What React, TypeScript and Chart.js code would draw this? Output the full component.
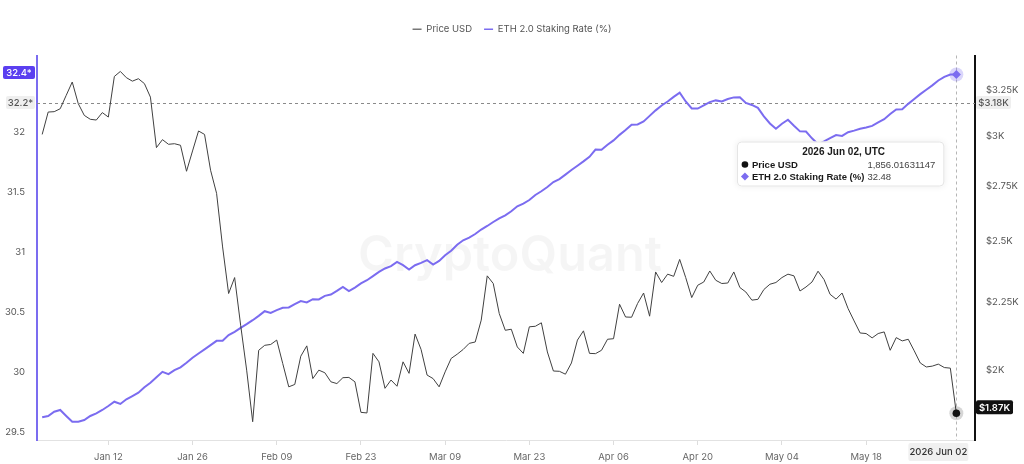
import React, { useEffect, useRef } from 'react';
import { Chart, registerables } from 'chart.js';

Chart.register(...registerables);

// Daily series, 2026 Jan 01 .. 2026 Jun 02
const priceUsd: number[] = [
  // Jan
  3009, 3128, 3130, 3146, 3220, 3295, 3174, 3110, 3089, 3085, 3125, 3101, 3327, 3356, 3320, 3300,
  3314, 3286, 3210, 2941, 2982, 2958, 2961, 2953, 2823, 2924, 3027, 3009, 2828, 2717, 2476,
  // Feb
  2284, 2348, 2162, 2000, 1829, 2070, 2088, 2091, 2107, 2023, 1943, 1951, 2049, 2086, 1971, 2000,
  1991, 1960, 1954, 1974, 1975, 1960, 1859, 1857, 2059, 2029, 1938, 1966,
  // Mar
  1945, 2029, 1989, 2129, 2073, 1983, 1971, 1943, 1994, 2041, 2056, 2073, 2095, 2100, 2181, 2355,
  2324, 2206, 2143, 2147, 2082, 2059, 2156, 2158, 2171, 2064, 1997, 1996, 1986, 2025, 2107,
  // Apr
  2141, 2059, 2058, 2070, 2110, 2112, 2242, 2193, 2192, 2245, 2286, 2196, 2371, 2328, 2362, 2353,
  2423, 2348, 2268, 2317, 2330, 2375, 2337, 2324, 2326, 2371, 2308, 2290, 2258, 2261,
  // May
  2300, 2321, 2328, 2348, 2362, 2355, 2294, 2310, 2330, 2374, 2340, 2281, 2262, 2286, 2225, 2178,
  2133, 2131, 2115, 2131, 2137, 2070, 2116, 2104, 2110, 2068, 2025, 2011, 2014, 2021, 2009,
  // Jun
  2007, 1856.01631147,
];

const stakingRate: number[] = [
  // Jan
  29.624, 29.635, 29.671, 29.685, 29.635, 29.587, 29.588, 29.601, 29.635, 29.657, 29.685, 29.718,
  29.754, 29.735, 29.774, 29.801, 29.829, 29.874, 29.912, 29.957, 30.003, 29.984, 30.017, 30.04,
  30.078, 30.12, 30.156, 30.19, 30.225, 30.261, 30.262,
  // Feb
  30.309, 30.336, 30.369, 30.4, 30.433, 30.469, 30.508, 30.494, 30.517, 30.536, 30.539, 30.567,
  30.592, 30.581, 30.608, 30.606, 30.636, 30.647, 30.677, 30.71, 30.675, 30.705, 30.739, 30.766,
  30.8, 30.835, 30.864, 30.883,
  // Mar
  30.918, 30.891, 30.855, 30.891, 30.91, 30.933, 30.897, 30.927, 30.974, 31.012, 31.062, 31.099,
  31.121, 31.151, 31.188, 31.218, 31.251, 31.282, 31.307, 31.34, 31.382, 31.404, 31.434, 31.476,
  31.507, 31.542, 31.584, 31.609, 31.646, 31.684, 31.72,
  // Apr
  31.756, 31.794, 31.854, 31.853, 31.894, 31.931, 31.977, 32.017, 32.062, 32.064, 32.089, 32.135,
  32.181, 32.222, 32.255, 32.293, 32.328, 32.255, 32.197, 32.196, 32.222, 32.25, 32.264, 32.255,
  32.276, 32.289, 32.291, 32.243, 32.226, 32.202,
  // May
  32.131, 32.072, 32.028, 32.07, 32.103, 32.053, 32.006, 32.005, 31.948, 31.898, 31.923, 31.95,
  31.975, 31.968, 31.999, 32.012, 32.028, 32.039, 32.052, 32.081, 32.107, 32.151, 32.189, 32.19,
  32.235, 32.276, 32.316, 32.353, 32.389, 32.43, 32.46,
  // Jun
  32.48, 32.48,
];

const seriesNames = ['Price USD', 'ETH 2.0 Staking Rate (%)'];
const xTickDays = [11, 25, 39, 53, 67, 81, 95, 109, 123, 137];
const xTickLabels = ['Jan 12', 'Jan 26', 'Feb 09', 'Feb 23', 'Mar 09', 'Mar 23', 'Apr 06', 'Apr 20', 'May 04', 'May 18'];
const rateTicks = [29.5, 30, 30.5, 31, 31.5, 32];
const priceTicks = [2000, 2250, 2500, 2750, 3000, 3250];

const hoverDateLabel = '2026 Jun 02';
const tooltipTitle = '2026 Jun 02, UTC';
const cursorPrice = 3180;
const cursorRateLabel = '32.2*';
const cursorPriceLabel = '$3.18K';
const lastRateLabel = '32.4*';
const lastPriceLabel = '$1.87K';
const watermarkText = 'CryptoQuant';

const PURPLE = '#7b6cf0';
const PRICE_COLOR = '#404040';
const FONT = 'Inter, "Noto Sans", sans-serif';
const TIP_FONT = '"Liberation Sans", Arial, sans-serif';

function roundRect(ctx: CanvasRenderingContext2D, x: number, y: number, w: number, h: number, r: number) {
  ctx.beginPath();
  ctx.moveTo(x + r, y);
  ctx.lineTo(x + w - r, y);
  ctx.quadraticCurveTo(x + w, y, x + w, y + r);
  ctx.lineTo(x + w, y + h - r);
  ctx.quadraticCurveTo(x + w, y + h, x + w - r, y + h);
  ctx.lineTo(x + r, y + h);
  ctx.quadraticCurveTo(x, y + h, x, y + h - r);
  ctx.lineTo(x, y + r);
  ctx.quadraticCurveTo(x, y, x + r, y);
  ctx.closePath();
}

function tagBox(
  ctx: CanvasRenderingContext2D,
  text: string,
  x: number,
  cy: number,
  w: number,
  h: number,
  bg: string,
  fg: string,
  weight = '500'
) {
  ctx.save();
  ctx.fillStyle = bg;
  roundRect(ctx, x, cy - h / 2, w, h, 2);
  ctx.fill();
  ctx.fillStyle = fg;
  ctx.font = `${weight} 9.5px ${FONT}`;
  ctx.textAlign = 'center';
  ctx.textBaseline = 'middle';
  ctx.fillText(text, x + w / 2, cy + 0.5);
  ctx.restore();
}

const legendSpacer = {
  id: 'legendSpacer',
  afterInit(chart: any) {
    const legend = chart.legend;
    if (!legend) return;
    const origFit = legend.fit;
    legend.fit = function () {
      origFit.call(this);
      this.height += 11.5;
    };
  },
};

const overlayPlugin = {
  id: 'overlay',
  beforeDatasetsDraw(chart: any) {
    const { ctx, chartArea } = chart;
    const last = priceUsd.length - 1;
    const pPt = chart.getDatasetMeta(0).data[last];
    const yPrice = chart.scales.yPrice;
    ctx.save();
    // watermark
    ctx.font = `600 50px ${FONT}`;
    const w = ctx.measureText(watermarkText).width;
    const size = (50 * 304) / w;
    ctx.font = `600 ${size}px ${FONT}`;
    ctx.fillStyle = 'rgba(0,0,0,0.04)';
    ctx.textAlign = 'center';
    ctx.textBaseline = 'middle';
    ctx.fillText(watermarkText, 510, 256);
    // crosshair
    ctx.setLineDash([3, 3]);
    ctx.lineWidth = 1;
    ctx.strokeStyle = '#b5b5b5';
    ctx.beginPath();
    ctx.moveTo(Math.round(pPt.x) + 0.5, chartArea.top);
    ctx.lineTo(Math.round(pPt.x) + 0.5, chartArea.bottom);
    ctx.stroke();
    const cy = Math.round(yPrice.getPixelForValue(cursorPrice)) + 0.5;
    ctx.strokeStyle = '#8a8a8a';
    ctx.beginPath();
    ctx.moveTo(chartArea.left, cy);
    ctx.lineTo(chartArea.right, cy);
    ctx.stroke();
    ctx.restore();
  },
  afterDatasetsDraw(chart: any) {
    const { ctx } = chart;
    const last = priceUsd.length - 1;
    const pPt = chart.getDatasetMeta(0).data[last];
    const sPt = chart.getDatasetMeta(1).data[last];
    ctx.save();
    // price point
    ctx.fillStyle = 'rgba(0,0,0,0.16)';
    ctx.beginPath();
    ctx.arc(pPt.x, pPt.y, 7, 0, Math.PI * 2);
    ctx.fill();
    ctx.fillStyle = '#111';
    ctx.beginPath();
    ctx.arc(pPt.x, pPt.y, 3.8, 0, Math.PI * 2);
    ctx.fill();
    // staking point
    ctx.fillStyle = 'rgba(123,108,240,0.28)';
    ctx.beginPath();
    ctx.arc(sPt.x, sPt.y, 7, 0, Math.PI * 2);
    ctx.fill();
    ctx.fillStyle = PURPLE;
    ctx.beginPath();
    ctx.moveTo(sPt.x, sPt.y - 4.5);
    ctx.lineTo(sPt.x + 4.5, sPt.y);
    ctx.lineTo(sPt.x, sPt.y + 4.5);
    ctx.lineTo(sPt.x - 4.5, sPt.y);
    ctx.closePath();
    ctx.fill();
    ctx.restore();
  },
  afterDraw(chart: any) {
    const { ctx, chartArea } = chart;
    const last = priceUsd.length - 1;
    const pPt = chart.getDatasetMeta(0).data[last];
    const sPt = chart.getDatasetMeta(1).data[last];
    const cy = chart.scales.yPrice.getPixelForValue(cursorPrice);

    // axis tags
    tagBox(ctx, lastRateLabel, 3, sPt.y - 2, 32, 13, '#5b3ff0', '#ffffff');
    tagBox(ctx, cursorRateLabel, 6, cy, 29, 13, '#efefef', '#555555');
    tagBox(ctx, cursorPriceLabel, chartArea.right + 1, cy, 35, 13, '#efefef', '#555555');
    tagBox(ctx, lastPriceLabel, chartArea.right + 1, pPt.y - 6, 37, 14, '#111111', '#ffffff', '600');
    tagBox(ctx, hoverDateLabel, pPt.x - 48, chartArea.bottom + 12, 60, 18, '#f0f0f0', '#333333', '500');

    // tooltip
    const rows = [
      { name: seriesNames[0], value: priceUsd[last].toLocaleString('en-US', { minimumFractionDigits: 8, maximumFractionDigits: 8 }), marker: 'circle' },
      { name: seriesNames[1], value: stakingRate[last].toFixed(2), marker: 'diamond' },
    ];
    ctx.save();
    ctx.font = `700 9.5px ${TIP_FONT}`;
    const labelW = Math.max(...rows.map((r) => ctx.measureText(r.name).width));
    ctx.font = `400 9.5px ${TIP_FONT}`;
    const valueW = Math.max(...rows.map((r) => ctx.measureText(r.value).width));
    const bw = Math.max(207, 15 + labelW + 4 + valueW + 8);
    const bh = 45;
    const bx = pPt.x - 12 - bw;
    const by = chartArea.top + 86;
    ctx.shadowColor = 'rgba(0,0,0,0.08)';
    ctx.shadowBlur = 6;
    ctx.fillStyle = '#ffffff';
    roundRect(ctx, bx, by, bw, bh, 4);
    ctx.fill();
    ctx.shadowColor = 'transparent';
    ctx.strokeStyle = '#e4e4e4';
    ctx.lineWidth = 1;
    roundRect(ctx, bx + 0.5, by + 0.5, bw - 1, bh - 1, 4);
    ctx.stroke();

    ctx.textBaseline = 'middle';
    ctx.fillStyle = '#1a1a1a';
    ctx.font = `700 10px ${TIP_FONT}`;
    ctx.textAlign = 'center';
    ctx.fillText(tooltipTitle, bx + bw / 2 + 3, by + 11);

    const valueX = bx + 15 + labelW + 3;
    rows.forEach((r, i) => {
      const ry = by + 23 + i * 12;
      const mx = bx + 8;
      if (r.marker === 'circle') {
        ctx.fillStyle = '#111';
        ctx.beginPath();
        ctx.arc(mx, ry, 3.3, 0, Math.PI * 2);
        ctx.fill();
      } else {
        ctx.fillStyle = PURPLE;
        ctx.beginPath();
        ctx.moveTo(mx, ry - 4);
        ctx.lineTo(mx + 4, ry);
        ctx.lineTo(mx, ry + 4);
        ctx.lineTo(mx - 4, ry);
        ctx.closePath();
        ctx.fill();
      }
      ctx.textAlign = 'left';
      ctx.fillStyle = '#1a1a1a';
      ctx.font = `700 9.5px ${TIP_FONT}`;
      ctx.fillText(r.name, bx + 15, ry + 0.5);
      ctx.fillStyle = '#444';
      ctx.font = `400 9.5px ${TIP_FONT}`;
      ctx.fillText(r.value, valueX, ry + 0.5);
    });
    ctx.restore();
  },
};

export default function App() {
  const ref = useRef<HTMLCanvasElement>(null);

  useEffect(() => {
    const canvas = ref.current;
    if (!canvas) return;
    Chart.defaults.font.family = FONT;

    const chart = new Chart(canvas, {
      type: 'line',
      data: {
        datasets: [
          {
            label: seriesNames[0],
            data: priceUsd.map((v, i) => ({ x: i, y: v })),
            borderColor: PRICE_COLOR,
            backgroundColor: PRICE_COLOR,
            borderWidth: 1,
            pointRadius: 0,
            tension: 0,
            yAxisID: 'yPrice',
          },
          {
            label: seriesNames[1],
            data: stakingRate.map((v, i) => ({ x: i, y: v })),
            borderColor: PURPLE,
            backgroundColor: PURPLE,
            borderWidth: 2,
            pointRadius: 0,
            tension: 0,
            yAxisID: 'yRate',
          },
        ],
      },
      options: {
        animation: false,
        responsive: true,
        maintainAspectRatio: false,
        events: [],
        layout: { padding: { top: 12.5, left: 0, right: 0, bottom: 0 } },
        plugins: {
          tooltip: { enabled: false },
          legend: {
            position: 'top',
            align: 'center',
            labels: {
              boxWidth: 9,
              boxHeight: 1.5,
              padding: 12,
              color: '#555555',
              font: { size: 9.5, family: FONT },
              generateLabels: (c: any) =>
                c.data.datasets.map((ds: any, i: number) => ({
                  text: ds.label,
                  fillStyle: i === 0 ? '#777777' : ds.borderColor,
                  strokeStyle: ds.borderColor,
                  lineWidth: 0,
                  hidden: false,
                  datasetIndex: i,
                  fontColor: '#555555',
                })),
            },
          },
        },
        scales: {
          x: {
            type: 'linear',
            min: -0.86,
            max: 155.1,
            afterBuildTicks: (scale: any) => {
              scale.ticks = xTickDays.map((v) => ({ value: v }));
            },
            afterFit: (scale: any) => {
              scale.height = 24;
            },
            ticks: {
              color: '#666666',
              font: { size: 9.5 },
              padding: 6,
              maxRotation: 0,
              autoSkip: false,
              callback: (value: any) => {
                const idx = xTickDays.indexOf(Number(value));
                return idx >= 0 ? xTickLabels[idx] : '';
              },
            },
            grid: {
              display: true,
              drawOnChartArea: false,
              drawTicks: true,
              tickLength: 5,
              color: '#dddddd',
            },
            border: { display: true, color: '#e2e2e2', width: 1 },
          },
          yRate: {
            type: 'linear',
            position: 'left',
            min: 29.435,
            max: 32.638,
            afterBuildTicks: (scale: any) => {
              scale.ticks = rateTicks.map((v) => ({ value: v }));
            },
            afterFit: (scale: any) => {
              scale.width = 37;
            },
            ticks: {
              color: '#555555',
              font: { size: 9.5 },
              padding: 12,
              callback: (value: any) => String(Number(value)),
            },
            grid: { display: false, drawTicks: false },
            border: { display: true, color: PURPLE, width: 2 },
          },
          yPrice: {
            type: 'logarithmic',
            position: 'right',
            min: 1772,
            max: 3450,
            afterBuildTicks: (scale: any) => {
              scale.ticks = priceTicks.map((v) => ({ value: v }));
            },
            afterFit: (scale: any) => {
              scale.width = 49;
            },
            ticks: {
              color: '#555555',
              font: { size: 9.5 },
              padding: 11,
              callback: (value: any) => '$' + Number(value) / 1000 + 'K',
            },
            grid: { display: false, drawTicks: false },
            border: { display: true, color: '#111111', width: 2 },
          },
        },
      } as any,
      plugins: [legendSpacer, overlayPlugin] as any,
    });

    return () => chart.destroy();
  }, []);

  return (
    <div style={{ position: 'absolute', left: 0, top: 0, width: 1024, height: 464, background: '#ffffff' }}>
      <canvas ref={ref} />
    </div>
  );
}
